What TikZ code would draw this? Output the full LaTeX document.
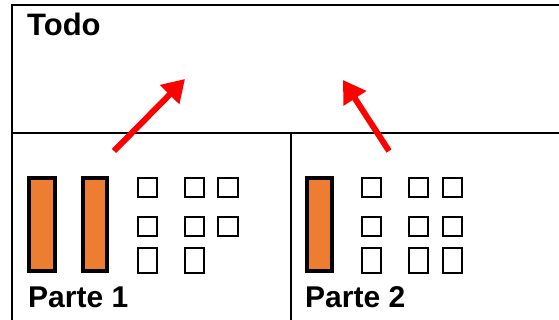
\documentclass[tikz,border=0pt]{standalone}
\usepackage{fontspec}
\setmainfont{Liberation Sans}
\usetikzlibrary{arrows.meta}
\definecolor{barorange}{HTML}{ED7D31}
\tikzset{
  frame/.style={line width=2.2pt, black},
  bar/.style={draw=black, fill=barorange, line width=3.5pt},
  cell/.style={draw=black, line width=2pt},
  label/.style={anchor=base west, inner sep=0pt, font=\bfseries\fontsize{30}{36}\selectfont},
  uparrow/.style={red, line width=6pt, -{Triangle[length=22pt,width=26pt]}}
}
\begin{document}
\begin{tikzpicture}[x=1pt,y=-1pt]
\useasboundingbox (0,0) rectangle (559,320);
% table rules
\draw[frame] (12,320) -- (12,5) -- (559,5);
\draw[frame] (12,133) -- (559,133);
\draw[frame] (291,133) -- (291,320);
% captions
\node[label, font=\bfseries\fontsize{31}{36}\selectfont] (todo) at (27,36) {Todo};
\node[label] (p1) at (28,307) {Parte 1};
\node[label] (p2) at (305,307) {Parte 2};
% part 1: bars
\draw[bar] (29,178) rectangle (55,271);
\draw[bar] (83,178) rectangle (107,271);
% part 1: cells
\foreach \x/\w in {138/19,185/19,218/20}{
  \draw[cell] (\x,178) rectangle ++(\w,19);
  \draw[cell] (\x,217) rectangle ++(\w,19);
}
\foreach \x in {138,185}{
  \draw[cell] (\x,248) rectangle ++(19,25);
}
% part 2: bar
\draw[bar] (307,178) rectangle (332,271);
% part 2: cells
\foreach \x/\w in {362/19,409/19,443/19}{
  \draw[cell] (\x,178) rectangle ++(\w,19);
  \draw[cell] (\x,217) rectangle ++(\w,19);
  \draw[cell] (\x,248) rectangle ++(\w,25);
}
% arrows from each part up to the whole
\coordinate (a1s) at (114,151);
\coordinate (a1e) at (185,79);
\coordinate (a2s) at (389,151);
\coordinate (a2e) at (343,80);
\draw[uparrow] (a1s) -- (a1e);
\draw[uparrow] (a2s) -- (a2e);
\end{tikzpicture}
\end{document}
